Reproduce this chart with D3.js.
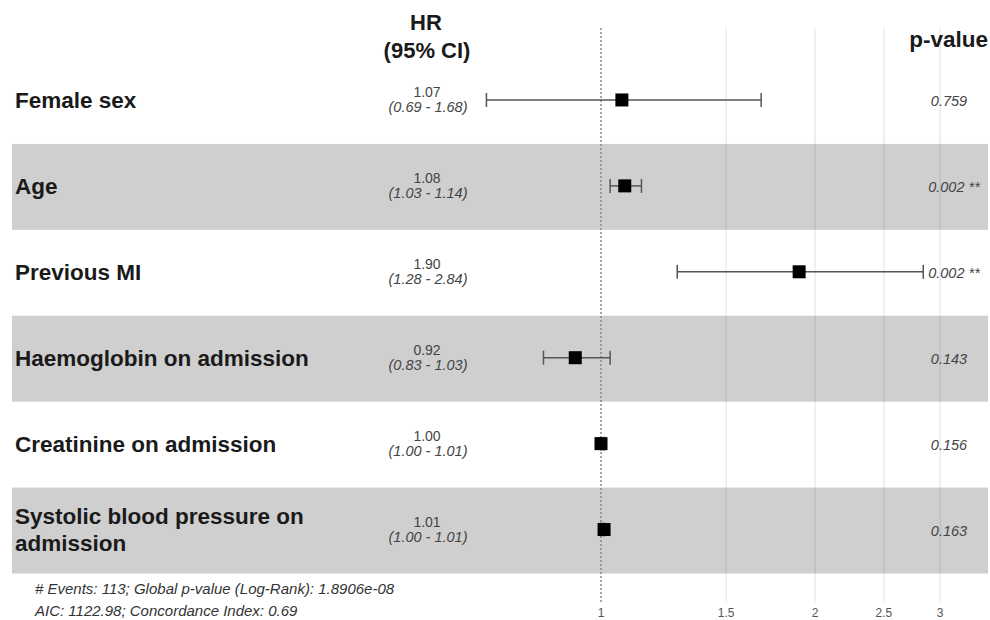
<!DOCTYPE html>
<html>
<head>
<meta charset="utf-8">
<script src="https://cdn.jsdelivr.net/npm/d3@7"></script>
<style>
  body { margin: 0; background: #fff; }
  svg { font-family: 'Liberation Sans', Arial, sans-serif; }
</style>
</head>
<body>
<div id="chart"></div>
<script>
const labels = [
  ['Female sex'],
  ['Age'],
  ['Previous MI'],
  ['Haemoglobin on admission'],
  ['Creatinine on admission'],
  ['Systolic blood pressure on', 'admission']
]
const hr = [1.07, 1.08, 1.90, 0.92, 1.00, 1.01]
const lower = [0.69, 1.03, 1.28, 0.83, 1.00, 1.00]
const upper = [1.68, 1.14, 2.84, 1.03, 1.01, 1.01]
const pValues = ['0.759', '0.002 **', '0.002 **', '0.143', '0.156', '0.163']
const ticks = [1, 1.5, 2, 2.5, 3]
const footer = [
  '# Events: 113; Global p-value (Log-Rank): 1.8906e-08',
  'AIC: 1122.98; Concordance Index: 0.69'
]

const width = 990
const height = 620

const svg = d3.select('#chart')
  .append('svg')
  .attr('width', width)
  .attr('height', height)

const x = d3.scaleLog()
  .domain([1, 2])
  .range([601, 815])

const y = d3.scaleBand()
  .domain(d3.range(labels.length))
  .range([58, 573.5])

const rowMid = i => y(i) + y.bandwidth() / 2

// alternating row bands
svg.selectAll('.band')
  .data(labels)
  .enter().append('rect')
  .attr('class', 'band')
  .attr('x', 12)
  .attr('width', 976)
  .attr('y', (d, i) => y(i))
  .attr('height', y.bandwidth())
  .attr('fill', (d, i) => i % 2 ? '#cfcfcf' : 'none')

// grid lines
svg.selectAll('.grid')
  .data(ticks.filter(t => t !== 1))
  .enter().append('line')
  .attr('x1', d => x(d))
  .attr('x2', d => x(d))
  .attr('y1', 28)
  .attr('y2', 603)
  .attr('stroke', '#000')
  .attr('stroke-opacity', 0.08)
  .attr('stroke-width', 1.5)

svg.append('line')
  .attr('x1', x(1))
  .attr('x2', x(1))
  .attr('y1', 28)
  .attr('y2', 603)
  .attr('stroke', '#888')
  .attr('stroke-width', 1.5)
  .attr('stroke-dasharray', '2 2')

// tick labels
svg.selectAll('.tick-label')
  .data(ticks)
  .enter().append('text')
  .attr('x', d => x(d))
  .attr('y', 617)
  .attr('text-anchor', 'middle')
  .attr('font-size', '12px')
  .attr('fill', '#555')
  .text(d => d)

// headers
svg.append('text')
  .attr('x', 426)
  .attr('y', 30)
  .attr('text-anchor', 'middle')
  .attr('font-size', '22px')
  .attr('font-weight', 'bold')
  .attr('fill', '#1a1a1a')
  .text('HR')

svg.append('text')
  .attr('x', 427)
  .attr('y', 58)
  .attr('text-anchor', 'middle')
  .attr('font-size', '22px')
  .attr('font-weight', 'bold')
  .attr('fill', '#1a1a1a')
  .text('(95% CI)')

svg.append('text')
  .attr('x', 988)
  .attr('y', 47)
  .attr('text-anchor', 'end')
  .attr('font-size', '22.5px')
  .attr('font-weight', 'bold')
  .attr('fill', '#1a1a1a')
  .text('p-value')

// variable labels
labels.forEach((lines, i) => {
  const first = rowMid(i) + 7 - (lines.length - 1) * 13.5
  lines.forEach((line, j) => {
    svg.append('text')
      .attr('x', 15)
      .attr('y', first + j * 27)
      .attr('font-size', '22.5px')
      .attr('font-weight', 'bold')
      .attr('fill', '#1a1a1a')
      .text(line)
  })
})

// HR and CI text
svg.selectAll('.hr-text')
  .data(hr)
  .enter().append('text')
  .attr('x', 427)
  .attr('y', (d, i) => rowMid(i) - 4)
  .attr('text-anchor', 'middle')
  .attr('font-size', '14px')
  .attr('fill', '#444')
  .text(d => d.toFixed(2))

svg.selectAll('.ci-text')
  .data(hr)
  .enter().append('text')
  .attr('x', 428)
  .attr('y', (d, i) => rowMid(i) + 11)
  .attr('text-anchor', 'middle')
  .attr('font-size', '14.5px')
  .attr('font-style', 'italic')
  .attr('fill', '#444')
  .text((d, i) => `(${lower[i].toFixed(2)} - ${upper[i].toFixed(2)})`)

// p-values
svg.selectAll('.p-text')
  .data(pValues)
  .enter().append('text')
  .attr('x', (d, i) => d.includes('*') ? 954 : 949)
  .attr('y', (d, i) => rowMid(i) + 5)
  .attr('text-anchor', 'middle')
  .attr('font-size', '14.5px')
  .attr('font-style', 'italic')
  .attr('fill', '#444')
  .text(d => d)

// confidence intervals
const ci = svg.selectAll('.ci')
  .data(hr)
  .enter().append('g')
  .attr('class', 'ci')

ci.append('line')
  .attr('x1', (d, i) => x(lower[i]))
  .attr('x2', (d, i) => x(upper[i]))
  .attr('y1', (d, i) => rowMid(i) - 1)
  .attr('y2', (d, i) => rowMid(i) - 1)
  .attr('stroke', '#555')
  .attr('stroke-width', 1.5)

ci.append('line')
  .attr('x1', (d, i) => x(lower[i]))
  .attr('x2', (d, i) => x(lower[i]))
  .attr('y1', (d, i) => rowMid(i) - 8)
  .attr('y2', (d, i) => rowMid(i) + 6)
  .attr('stroke', '#555')
  .attr('stroke-width', 1.5)

ci.append('line')
  .attr('x1', (d, i) => x(upper[i]))
  .attr('x2', (d, i) => x(upper[i]))
  .attr('y1', (d, i) => rowMid(i) - 8)
  .attr('y2', (d, i) => rowMid(i) + 6)
  .attr('stroke', '#555')
  .attr('stroke-width', 1.5)

ci.append('rect')
  .attr('x', d => x(d) - 6.5)
  .attr('y', (d, i) => rowMid(i) - 7.5)
  .attr('width', 13)
  .attr('height', 13)
  .attr('fill', '#000')

// footer
svg.selectAll('.footer')
  .data(footer)
  .enter().append('text')
  .attr('x', 35)
  .attr('y', (d, i) => 594 + i * 22)
  .attr('font-size', '15px')
  .attr('font-style', 'italic')
  .attr('fill', '#333')
  .text(d => d)
</script>
</body>
</html>
